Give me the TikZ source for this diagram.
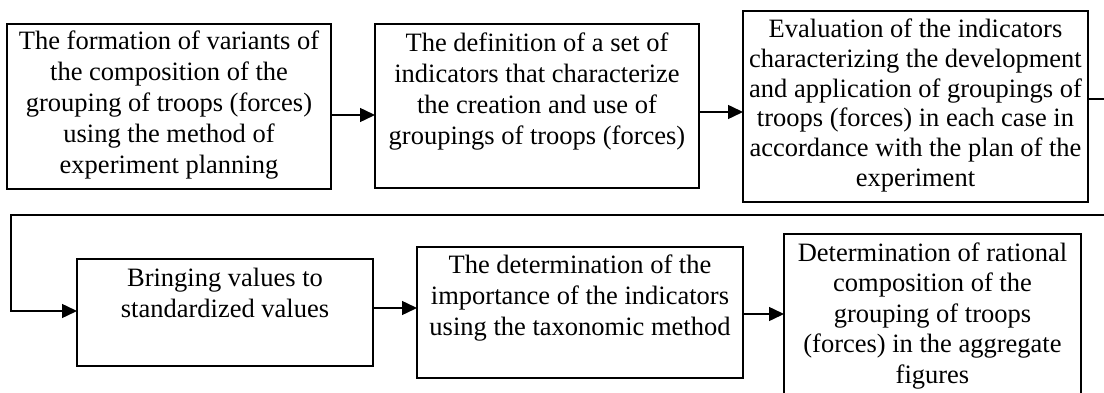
\documentclass[tikz,border=0pt]{standalone}
\usepackage{fontspec}
\setmainfont{Liberation Serif}
\usetikzlibrary{arrows.meta}
\begin{document}
\begin{tikzpicture}[x=1pt,y=-1pt,
  stepbox/.style={draw, line width=1.8pt, inner sep=0pt, outer sep=0pt, anchor=north west},
  steptext/.style={align=center, inner sep=0pt, anchor=base, font=\fontsize{26.5}{31}\selectfont},
  flow/.style={line width=1.5pt, -{Triangle[length=15pt,width=14pt]}},
  ]
\useasboundingbox (0,0) rectangle (1104,393);
\clip (0,0) rectangle (1104,393);

% upper row
\node[stepbox, minimum width=324pt, minimum height=165pt] (b1) at (7,24) {};
\node[stepbox, minimum width=324pt, minimum height=164pt] (b2) at (375,24) {};
\node[stepbox, minimum width=345pt, minimum height=191pt] (b3) at (743,11) {};
% lower row
\node[stepbox, minimum width=296pt, minimum height=107pt] (b4) at (77,259) {};
\node[stepbox, minimum width=326pt, minimum height=131pt] (b5) at (417,247) {};
\node[stepbox, minimum width=297pt, minimum height=180pt] (b6) at (784,234) {};

% box texts (base anchor sits on the last line)
\node[steptext] (t1) at ([yshift=-150pt]b1.north) {The formation of variants of\\the composition of the\\grouping of troops (forces)\\using the method of\\experiment planning};
\node[steptext] (t2) at ([yshift=-120.5pt]b2.north) {The definition of a set of\\indicators that characterize\\the creation and use of\\groupings of troops (forces)};
\node[steptext, font=\fontsize{26.5}{29.8}\selectfont] (t3) at ([yshift=-175.5pt]b3.north) {Evaluation of the indicators\\characterizing the development\\and application of groupings of\\troops (forces) in each case in\\accordance with the plan of the\\experiment};
\node[steptext] (t4) at ([yshift=-58.5pt]b4.north) {Bringing values to\\standardized values};
\node[steptext] (t5) at ([yshift=-88pt]b5.north) {The determination of the\\importance of the indicators\\using the taxonomic method};
\node[steptext, font=\fontsize{26.5}{30.4}\selectfont] (t6) at ([yshift=-149pt]b6.north) {Determination of rational\\composition of the\\grouping of troops\\(forces) in the aggregate\\figures};

% connectors
\draw[flow] ([yshift=-8.5pt]b1.east) -- ([yshift=-9pt]b2.west);
\draw[flow] ([yshift=-6pt]b2.east) -- ([yshift=-5.5pt]b3.west);
\coordinate (turnR) at (1112,215);
\coordinate (turnL) at (11,215);
\draw[flow] ([yshift=7.5pt]b3.east) -| (turnR) -- (turnL) |- ([yshift=1.5pt]b4.west);
\draw[flow] ([yshift=4.5pt]b4.east) -- ([yshift=4.5pt]b5.west);
\draw[flow] ([yshift=-1.5pt]b5.east) -- ([yshift=10pt]b6.west);
\end{tikzpicture}
\end{document}
